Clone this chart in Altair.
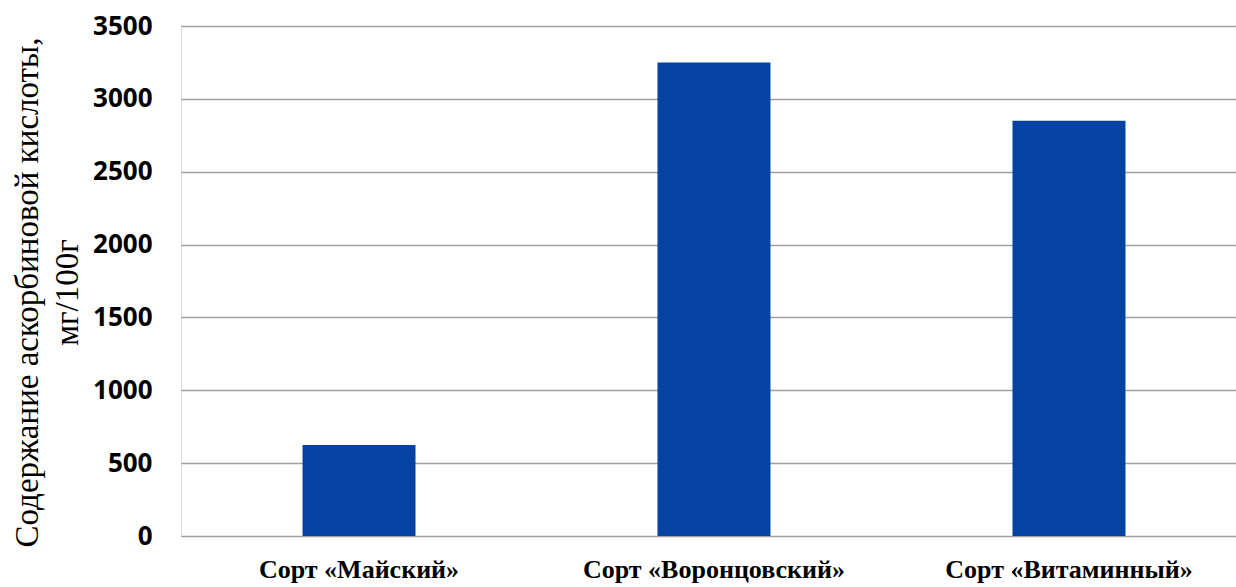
import altair as alt
import pandas as pd

# Ascorbic acid content by cultivar, mg per 100 g
varieties = ["Сорт «Майский»", "Сорт «Воронцовский»", "Сорт «Витаминный»"]
ascorbic = [625, 3250, 2850]
y_ticks = [0, 500, 1000, 1500, 2000, 2500, 3000, 3500]

df = pd.DataFrame({"variety": varieties, "value": ascorbic})

bars = alt.Chart(df).mark_bar(color="#0443A2").encode(
    x=alt.X(
        "variety:N",
        sort=varieties,
        scale=alt.Scale(paddingInner=0.6817, paddingOuter=0.3268, align=0.5237),
        axis=alt.Axis(
            title=None,
            labelAngle=0,
            labelLimit=0,
            labelFont="Liberation Serif",
            labelFontWeight="bold",
            labelFontSize=26,
            labelColor="#000000",
            labelPadding=20,
            ticks=False,
            domain=False,
            grid=False,
        ),
    ),
    y=alt.Y(
        "value:Q",
        scale=alt.Scale(domain=[0, 3500], nice=False),
        axis=alt.Axis(
            values=y_ticks,
            format="d",
            title=["Содержание аскорбиновой кислоты,", "мг/100г"],
            titleFont="Liberation Serif",
            titleFontSize=33,
            titleFontWeight="normal",
            titleColor="#000000",
            titleLineHeight=40,
            titleLimit=0,
            titleAngle=270,
            titleBaseline="middle",
            titleAlign="center",
            titleX=-154,
            titleY=266,
            labelFont="Open Sans",
            labelFontWeight="bold",
            labelFontSize=26,
            labelColor="#000000",
            labelPadding=29,
            ticks=False,
            domain=False,
            grid=True,
            gridColor="#A0A0A0",
            gridWidth=1.6,
        ),
    ),
)

chart = bars.properties(
    width=1055,
    height=510,
    autosize=alt.AutoSizeParams(type="none"),
    padding={"left": 181, "top": 26, "right": 0, "bottom": 51},
).configure_view(stroke=None).configure(background="#ffffff")

chart.save("out.html", embed_options={"renderer": "svg", "actions": False})
